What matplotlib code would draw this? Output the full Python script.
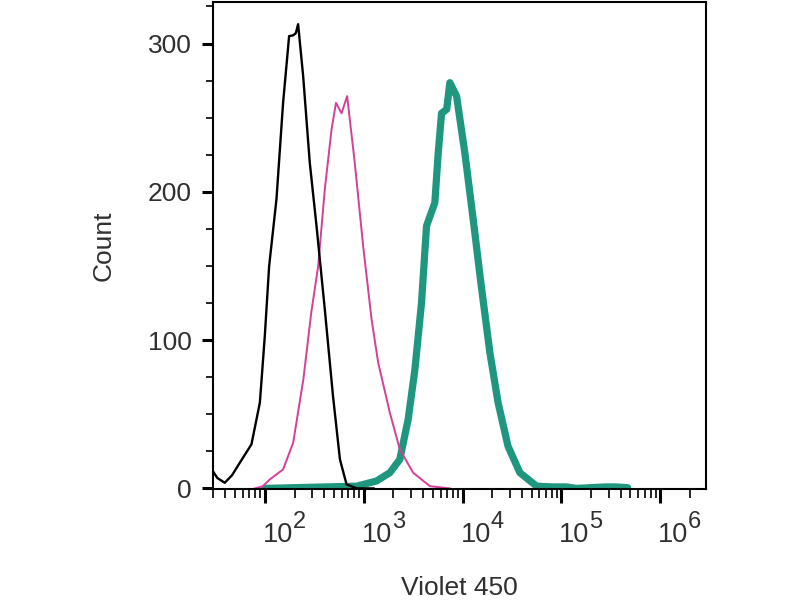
import matplotlib
matplotlib.use("Agg")
import matplotlib.pyplot as plt
from matplotlib.ticker import MultipleLocator, LogLocator, FixedLocator, NullFormatter
from matplotlib.transforms import offset_copy

plt.rcParams['font.family'] = ['Liberation Sans', 'DejaVu Sans']

# positions are log10 of the Violet 450 intensity
black_log = [1.474, 1.52, 1.595, 1.67, 1.747, 1.865, 1.95, 2.0, 2.044, 2.118, 2.185,
             2.246, 2.287, 2.314, 2.337, 2.388, 2.455, 2.523, 2.607, 2.69, 2.76,
             2.827, 2.93, 3.1]
black_count = [11.7, 7, 3.8, 9, 17.3, 29.7, 57.8, 102.7, 150, 195, 260,
               305, 305.5, 307, 313, 278, 219.6, 177, 120.7, 62.2, 19.6,
               2.7, 0, 0]

pink_log = [1.9, 1.98, 2.05, 2.185, 2.287, 2.39, 2.47, 2.54, 2.607, 2.675, 2.72,
            2.776, 2.833, 2.91, 2.995, 3.08, 3.147, 3.265, 3.366, 3.5, 3.67, 3.87]
pink_count = [0, 1.5, 6, 12.8, 30.8, 73.5, 118.5, 150, 201.6, 242, 260,
              253, 264.5, 219.6, 163.4, 114, 84.8, 51, 26.3, 10.6, 1.5, 0]

green_log = [2.0, 2.93, 3.13, 3.265, 3.366, 3.45, 3.518, 3.585, 3.636, 3.72, 3.754,
             3.788, 3.84, 3.872, 3.94, 4.024, 4.108, 4.19, 4.277, 4.36, 4.46,
             4.58, 4.75, 4.9, 5.05, 5.15, 5.3, 5.45, 5.55, 5.67]
green_count = [0, 1.5, 5, 10.6, 19.6, 46.5, 80, 125, 177, 192.6, 226,
               253, 255.6, 273.6, 264.5, 226, 181.4, 136.4, 91.5, 57.8, 28.5,
               10.6, 1.5, 1, 1, 0, 0.5, 1, 1, 0.5]

xtick_pos = [2, 3, 4, 5, 6]
ytick_pos = [0, 100, 200, 300]
text_color = '#303030'

fig = plt.figure(figsize=(8, 6), dpi=100)
ax = fig.add_axes([0.266, 0.185, 0.6165, 0.8117])

ax.plot([10 ** v for v in green_log], green_count, color='#1f977e', lw=5.2,
        solid_joinstyle='round', solid_capstyle='round')
ax.plot([10 ** v for v in pink_log], pink_count, color='#d43f98', lw=1.4)
ax.plot([10 ** v for v in black_log], black_count, color='black', lw=1.7)

ax.set_xscale('log')
ax.set_xlim(10 ** 1.474, 10 ** 6.463)
ax.set_ylim(-0.4, 328)

ax.xaxis.set_major_locator(FixedLocator([10 ** p for p in xtick_pos]))
ax.xaxis.set_major_formatter(NullFormatter())
ax.xaxis.set_minor_locator(LogLocator(base=10, subs=range(2, 10), numticks=20))
ax.xaxis.set_minor_formatter(NullFormatter())

# decade labels: "10" with a big raised exponent, as in the cytometry software
xt = ax.get_xaxis_transform()
for p in xtick_pos:
    ax.text(10 ** p, 0, '10', transform=offset_copy(xt, fig, x=-2, y=-53, units='dots'),
            ha='left', va='baseline', fontsize=19.5, color=text_color)
    ax.text(10 ** p, 0, str(p), transform=offset_copy(xt, fig, x=28, y=-39, units='dots'),
            ha='left', va='baseline', fontsize=17, color=text_color)

ax.set_yticks(ytick_pos)
ax.yaxis.set_minor_locator(MultipleLocator(25))

for side in ax.spines.values():
    side.set_linewidth(1.5)

ax.tick_params(axis='both', which='major', direction='out', width=2.2,
               labelsize=19, labelcolor=text_color)
ax.tick_params(axis='both', which='minor', direction='out', width=1.2)
ax.tick_params(axis='x', which='major', length=10)
ax.tick_params(axis='x', which='minor', length=6.5)
ax.tick_params(axis='y', which='major', length=8, pad=7)
ax.tick_params(axis='y', which='minor', length=5)

ax.set_xlabel("Violet 450", fontsize=19, color=text_color)
ax.xaxis.set_label_coords(0.5, -0.179)
ax.set_ylabel("Count", fontsize=19, color=text_color, labelpad=23)

fig.savefig("out.png", dpi=100)
